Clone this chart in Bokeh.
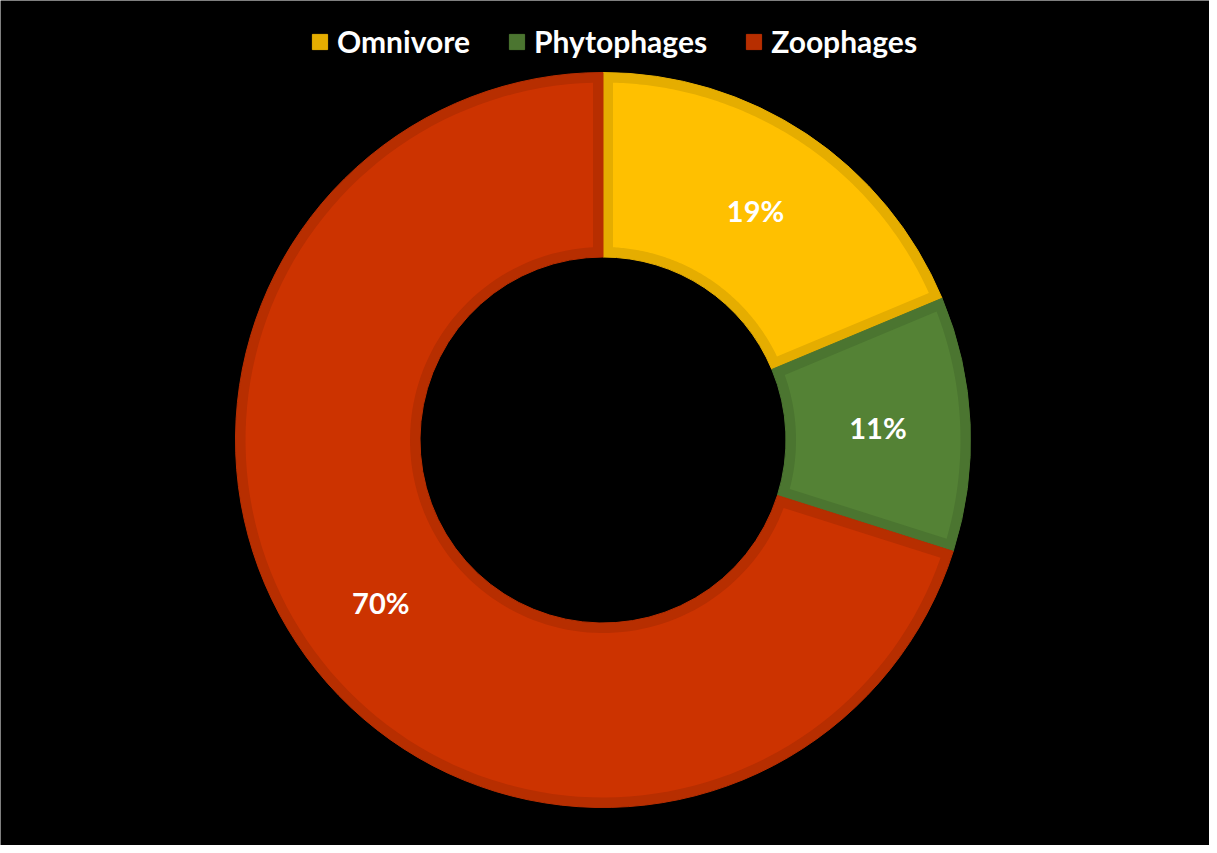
import math
from bokeh.plotting import figure
from bokeh.models import ColumnDataSource, Range1d, Legend, LegendItem
from bokeh.core.properties import value
from bokeh.embed import file_html
from bokeh.resources import INLINE

# ---- data ----
categories = ["Omnivore", "Phytophages", "Zoophages"]
shares = [18.7, 11.2, 70.1]          # percent of total
labels = ["19%", "11%", "70%"]
fill_colors = ["#FFC000", "#548235", "#CC3300"]
edge_colors = ["#E5AD00", "#4B7530", "#B72E00"]

# ---- geometry (pixel-like data units) ----
W, H = 1209, 845
cx_px, cy_px = 602.5, 439.5       # centre inside the canvas
R_OUT, R_IN, BAND = 367.5, 183.0, 10.0

total = sum(shares)
starts, ends = [], []
a = math.pi / 2
for s in shares:
    span = s / total * 2 * math.pi
    starts.append(a)
    ends.append(a - span)
    a -= span

p = figure(width=W, height=H, output_backend="svg", toolbar_location=None,
           x_range=Range1d(-cx_px, W - cx_px), y_range=Range1d(-(H - cy_px), cy_px),
           min_border=0, background_fill_color="black", border_fill_color="black",
           outline_line_color=None)
p.axis.visible = False
p.grid.visible = False

src = ColumnDataSource(dict(cat=categories, start=starts, end=ends,
                            fill=fill_colors, edge=edge_colors))
dark = p.annular_wedge(x=0, y=0, inner_radius=R_IN, outer_radius=R_OUT,
                       start_angle="start", end_angle="end", direction="clock",
                       fill_color="edge", line_color="edge", line_width=1, source=src)

# inner lighter region, inset by BAND px on every side
xs, ys = [], []
ro, ri = R_OUT - BAND, R_IN + BAND
for st, en in zip(starts, ends):
    o0, o1 = st - math.asin(BAND / ro), en + math.asin(BAND / ro)
    i0, i1 = st - math.asin(BAND / ri), en + math.asin(BAND / ri)
    n = 120
    px, py = [], []
    for k in range(n + 1):
        t = o0 + (o1 - o0) * k / n
        px.append(ro * math.cos(t)); py.append(ro * math.sin(t))
    for k in range(n + 1):
        t = i1 + (i0 - i1) * k / n
        px.append(ri * math.cos(t)); py.append(ri * math.sin(t))
    xs.append(px); ys.append(py)
p.patches(xs=xs, ys=ys, fill_color=fill_colors, line_color=None)

# percentage labels at ring middle
rm = (R_IN + R_OUT) / 2
mids = [(s + e) / 2 for s, e in zip(starts, ends)]
lsrc = ColumnDataSource(dict(x=[rm * math.cos(m) for m in mids],
                             y=[rm * math.sin(m) for m in mids], t=labels))
p.text(x="x", y="y", text="t", source=lsrc, text_color="white",
       text_font=value("Lato"), text_font_style="bold", text_font_size="29px",
       text_align="center", text_baseline="middle")

legend = Legend(items=[LegendItem(label=c, renderers=[dark], index=i)
                       for i, c in enumerate(categories)],
                orientation="horizontal", location=(310, 786),
                padding=0, margin=0, spacing=37, label_standoff=8,
                glyph_width=19, glyph_height=19, label_height=36,
                label_text_color="white", label_text_font="Lato",
                label_text_font_style="bold", label_text_font_size="30px",
                label_text_baseline="middle",
                background_fill_alpha=0, border_line_color=None)
p.add_layout(legend, "center")

open("out.html", "w").write(file_html(p, INLINE))
